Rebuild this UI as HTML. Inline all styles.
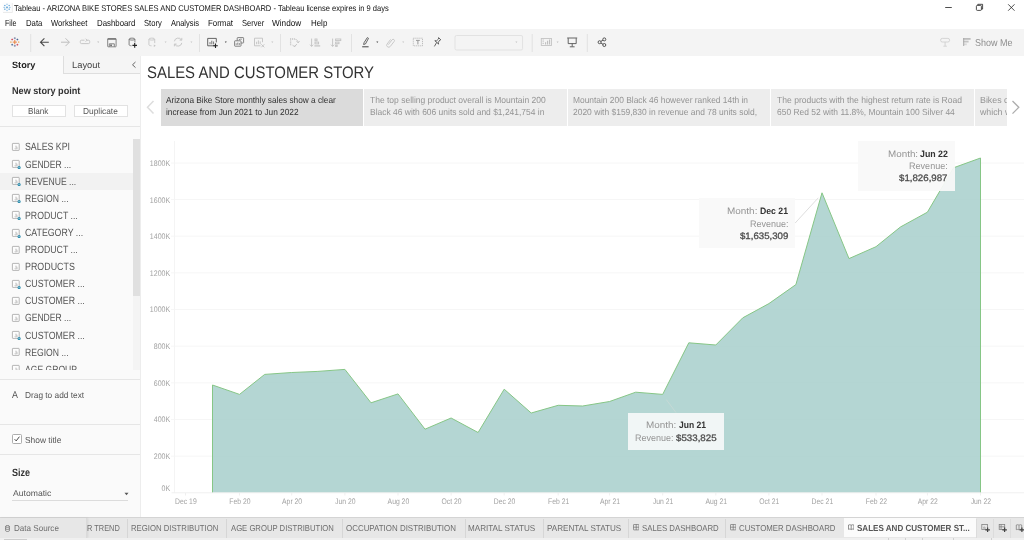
<!DOCTYPE html>
<html lang="en">
<head>
<meta charset="utf-8">
<title>Tableau - ARIZONA BIKE STORES SALES AND CUSTOMER DASHBOARD</title>
<style>
*{box-sizing:border-box;margin:0;padding:0}
html,body{width:1024px;height:540px;overflow:hidden;background:#fff}
body{font-family:"Liberation Sans",sans-serif;color:#333;position:relative;text-rendering:geometricPrecision}
.abs{position:absolute}
#titlebar{position:absolute;left:0;top:0;width:1024px;height:16px;background:#fff}
#titlebar .t{position:absolute;left:14px;top:2.5px;font-size:8.8px;color:#111;white-space:nowrap;line-height:10px}
#menubar{position:absolute;left:0;top:16px;width:1024px;height:13px;background:#fff}
#menubar span{position:absolute;top:.8px;font-size:8.9px;line-height:10px;color:#111;white-space:nowrap}
#toolbar{position:absolute;left:0;top:29px;width:1024px;height:27px;background:#f4f4f4}
#toolbar .sep{position:absolute;top:4px;height:18px;width:1px;background:#e0e0e0}
#toolbar svg{position:absolute}
#sidebar{position:absolute;left:0;top:56px;width:141px;height:461px;background:#fafafa;border-right:1.200px solid #ededed}
.hr{position:absolute;left:0;width:139.800px;height:1.200px;background:#e6e6e6}
.li{position:absolute;left:0;width:133px;height:17px;font-size:9.9px;color:#555;white-space:nowrap;line-height:17px}
.li.sel{background:#f2f2f2}
.li .ico{position:absolute;left:10.5px;top:3.6px}
.li>span{position:absolute;left:24.4px;top:0}
.btn{position:absolute;height:11.6px;background:#fff;border:1px solid #e2e2e2;color:#555}
.sp{position:absolute;top:89px;height:37px;color:#949494;overflow:hidden;background:#ededed}
.sp.cur{background:#dbdbdb;color:#333}
.chart{position:absolute;left:0;top:0}
.tip{position:absolute;background:rgba(249,249,249,.93);color:#959595}
.tip b{color:#333;font-weight:bold}
.tip .v{color:#555;font-weight:bold}
#tabbar{position:absolute;left:0;top:517px;width:1024px;height:23px;background:#e7e7e7;border-top:1px solid #d4d4d4}
.tab{color:#6e6e6e}
.ssep{position:absolute;top:20px;width:1px;height:3px;background:#d0d0d0}
.tsep{position:absolute;top:1px;width:1px;height:19px;background:#d6d6d6}
</style>
</head>
<body>
<div id="titlebar">
<svg class="abs" style="left:1.500px;top:2px" width="11" height="11" viewBox="0 0 11 11"><rect x="1" y="1" width="9.600" height="9.800" fill="#e4e4e4"/><rect x=".5" y=".5" width="9.400" height="9.600" fill="#fbfcfd"/><g stroke="#4f9bd5" stroke-width=".9" opacity=".85"><path d="M5 4.300v2.200M3.900 5.400h2.200"/><path d="M5 1.700v1.300M5 7.800v1.300M1.500 5.400h1.300M7.200 5.400h1.300M2.800 2.900v1.300M2.200 3.500h1.300M7.200 2.900v1.300M6.600 3.500h1.300M2.800 6.600v1.300M2.200 7.200h1.300M7.200 6.600v1.300M6.600 7.200h1.300" stroke-width=".8"/></g></svg>
<div style="position:absolute;left:14.30px;top:3.00px;font-size:8.3px;line-height:10px;white-space:nowrap;color:#111"><span style="display:inline-block;transform:scaleX(0.9099);transform-origin:0 50%">Tableau - ARIZONA BIKE STORES SALES AND CUSTOMER DASHBOARD - Tableau license expires in 9 days</span></div>
<svg class="abs" style="left:940px;top:0" width="84" height="16" viewBox="0 0 84 16"><g stroke="#222" stroke-width=".8" fill="none"><path d="M5.200 7.500h6.600"/><rect x="36.400" y="5.400" width="5" height="5" rx=".9"/><path d="M37.800 5.400v-1.100h4.800v4.800h-1.200"/><path d="M68.200 4.300l6.300 6.400M74.500 4.300l-6.300 6.400"/></g></svg>
</div>
<div id="menubar">
<span style="position:absolute;left:4.70px;top:1.00px;font-size:8.4px;line-height:10px;white-space:nowrap;color:#111"><span style="display:inline-block;transform:scaleX(0.7965);transform-origin:0 50%">File</span></span><span style="position:absolute;left:25.80px;top:1.00px;font-size:8.4px;line-height:10px;white-space:nowrap;color:#111"><span style="display:inline-block;transform:scaleX(0.8747);transform-origin:0 50%">Data</span></span><span style="position:absolute;left:51.30px;top:1.00px;font-size:8.4px;line-height:10px;white-space:nowrap;color:#111"><span style="display:inline-block;transform:scaleX(0.8636);transform-origin:0 50%">Worksheet</span></span><span style="position:absolute;left:96.90px;top:1.00px;font-size:8.4px;line-height:10px;white-space:nowrap;color:#111"><span style="display:inline-block;transform:scaleX(0.8820);transform-origin:0 50%">Dashboard</span></span><span style="position:absolute;left:144.30px;top:1.00px;font-size:8.4px;line-height:10px;white-space:nowrap;color:#111"><span style="display:inline-block;transform:scaleX(0.8543);transform-origin:0 50%">Story</span></span><span style="position:absolute;left:171.30px;top:1.00px;font-size:8.4px;line-height:10px;white-space:nowrap;color:#111"><span style="display:inline-block;transform:scaleX(0.8469);transform-origin:0 50%">Analysis</span></span><span style="position:absolute;left:208.00px;top:1.00px;font-size:8.4px;line-height:10px;white-space:nowrap;color:#111"><span style="display:inline-block;transform:scaleX(0.8894);transform-origin:0 50%">Format</span></span><span style="position:absolute;left:241.80px;top:1.00px;font-size:8.4px;line-height:10px;white-space:nowrap;color:#111"><span style="display:inline-block;transform:scaleX(0.8493);transform-origin:0 50%">Server</span></span><span style="position:absolute;left:272.30px;top:1.00px;font-size:8.4px;line-height:10px;white-space:nowrap;color:#111"><span style="display:inline-block;transform:scaleX(0.9247);transform-origin:0 50%">Window</span></span><span style="position:absolute;left:310.50px;top:1.00px;font-size:8.4px;line-height:10px;white-space:nowrap;color:#111"><span style="display:inline-block;transform:scaleX(0.8924);transform-origin:0 50%">Help</span></span>
</div>
<div id="toolbar">
<!--TB0--><svg class="abs" style="left:0;top:0" width="1024" height="27" viewBox="0 0 1024 27">
<!-- tableau logo -->
<g stroke-linecap="butt" opacity=".9">
<path d="M14.800 11v4.200M12.700 13.100h4.200" stroke="#e8762d" stroke-width="1"/>
<path d="M14.800 8.200v2M13.800 9.200h2M14.800 15.800v2M13.800 16.800h2" stroke="#5c6692" stroke-width=".7"/>
<path d="M12.200 9.600v1.800M11.300 10.500h1.800M17.400 14.800v1.800M16.500 15.700h1.800" stroke="#c72037" stroke-width=".7"/>
<path d="M17.400 9.600v1.800M16.500 10.500h1.800M12.200 14.800v1.800M11.300 15.700h1.800" stroke="#1f457e" stroke-width=".7"/>
<path d="M10.900 12.400v1.400M10.200 13.100h1.400M18.700 12.400v1.400M18 13.100h1.400" stroke="#eb9129" stroke-width=".6"/>
</g>
<g fill="#e2e2e2">
<rect x="30.200" y="5" width="1" height="18"/><rect x="199" y="5" width="1" height="18"/><rect x="280" y="5" width="1" height="18"/><rect x="351" y="5" width="1" height="18"/><rect x="531.700" y="5" width="1" height="18"/><rect x="586.800" y="5" width="1" height="18"/>
</g>
<!-- back -->
<g fill="none" stroke="#4a4a4a" stroke-width="1.100"><path d="M48.800 13.200H40.600M44.400 9.300l-3.900 3.900l3.900 3.900"/></g>
<!-- forward -->
<g fill="none" stroke="#bdbdbd" stroke-width="1"><path d="M61 13.200h8.200M65.500 9.300l3.900 3.900l-3.900 3.900"/></g>
<!-- replay -->
<g fill="none" stroke="#c2c2c2" stroke-width=".9"><path d="M84.500 11.200h-3a1.200 1.200 0 0 0-1.200 1.200v1a1.200 1.200 0 0 0 1.200 1.200h7a1.200 1.200 0 0 0 1.200-1.200v-1a1.200 1.200 0 0 0-1.200-1.200h-2.200M85.600 9.700l1.500 1.500l-1.500 1.500"/></g>
<path d="M97.2 12.600h2l-1 1.300z" fill="#bdbdbd"/>
<!-- save -->
<g fill="none" stroke="#6a6a6a" stroke-width=".8"><rect x="107.700" y="9.600" width="8.400" height="8.200" rx=".5"/><path d="M107.700 10.100h8.400" stroke-width="1.200"/><path d="M109.300 17.600v-2.800h5v2.800"/><rect x="110.300" y="15.500" width="1.500" height="1.600" fill="#555" stroke="none"/></g>
<!-- new datasource -->
<g fill="none" stroke="#666" stroke-width=".8"><ellipse cx="132" cy="10.100" rx="2.900" ry="1"/><path d="M129.100 10.100v5.600c0 .6 1 1 2.400 1.100M134.900 10.100v3.400"/><path d="M134.700 14.100v4.600M132.400 16.400h4.600" stroke="#222" stroke-width="1.100"/></g>
<!-- light cylinder -->
<g fill="none" stroke="#c4c4c4" stroke-width=".85"><ellipse cx="151.800" cy="10.100" rx="2.900" ry="1"/><path d="M148.900 10.100v5.600c0 .6 1 1 2.600 1.100M154.700 10.100v4"/><path d="M153.800 15.400l2 1.300l-2 1.300z" fill="#c4c4c4" stroke="none"/></g>
<path d="M164.6 12.600h2l-1 1.300z" fill="#c6c6c6"/>
<!-- refresh -->
<g fill="none" stroke="#c2c2c2" stroke-width=".9"><path d="M174.400 12.300a3.800 3.800 0 0 1 7-1.400M181.800 13.900a3.800 3.800 0 0 1-7 1.400"/><path d="M181.800 8.900v2.200h-2.200M174.400 17.300v-2.200h2.200"/></g>
<path d="M190.4 12.600h2l-1 1.300z" fill="#c6c6c6"/>
<!-- new worksheet -->
<g fill="none" stroke="#555" stroke-width=".9"><path d="M215.500 15.500v1.300h-7.800v-7.400h8.600v4"/><path d="M210 15.300v-2.200M211.800 15.300v-3.600M213.600 15.300v-2.800" stroke="#666"/><path d="M215.500 14.500v4.600M213.200 16.800h4.600" stroke="#222" stroke-width="1.100"/></g>
<path d="M224.8 12.600h2l-1 1.300z" fill="#444"/>
<!-- duplicate -->
<g fill="none" stroke="#777" stroke-width=".9"><rect x="237.200" y="8.600" width="6.400" height="5.400" rx=".5"/><rect x="234.600" y="11.800" width="6.400" height="5.400" rx=".5" fill="#f4f4f4"/><path d="M236.200 15.800v-1.400M237.800 15.800v-2.200M239.400 15.800v-1.600M239.400 11v-1M241 11v-1.400"/></g>
<!-- clear sheet -->
<g fill="none" stroke="#c2c2c2" stroke-width=".9"><path d="M260.500 16.800h-6v-7.600h8v4"/><path d="M256.600 15.200v-2.400M258.400 15.200v-3.800M260.200 15.200v-2.800"/><path d="M261.300 15.300l3 3M264.300 15.300l-3 3"/></g>
<path d="M271.3 12.600h2l-1 1.300z" fill="#c4c4c4"/>
<!-- swap -->
<g fill="none" stroke="#c2c2c2" stroke-width=".9"><path d="M290 10h5.600" stroke-dasharray="1.100 .8" stroke-width="1.300"/><path d="M290.600 11.400v5" stroke-dasharray="1.100 .8" stroke-width="1.300"/><path d="M295.400 10.300c1.600 .3 2.600 1.600 2.700 3.200M297 15.200l-2.800 2.300"/><path d="M296.600 12.300l1.600 1.600l1.300-1.800M292.600 15.800l1.400 1.800l2-1"/></g>
<!-- sort asc -->
<g fill="none" stroke="#c2c2c2" stroke-width=".9"><path d="M311.600 9.600v7.800M310 15.700l1.600 1.700l1.600-1.700"/><rect x="315" y="10" width="2" height="1.800"/><rect x="315" y="13.100" width="3.600" height="1.800"/><path d="M314.400 16.900h5.800" stroke-width="1.200"/></g>
<!-- sort desc -->
<g fill="none" stroke="#c2c2c2" stroke-width=".9"><path d="M332.600 9.600v7.800M331 15.700l1.600 1.700l1.600-1.700"/><rect x="335.600" y="10" width="5.200" height="1.600"/><rect x="335.600" y="13.100" width="3.400" height="1.600"/><rect x="335.600" y="16" width="1.600" height="1.400"/></g>
<!-- highlighter -->
<g fill="none" stroke="#555" stroke-width=".9"><path d="M367.300 8.600l1.200.7l-3 5.600l-1.900.6l.5-1.900z"/><path d="M362.200 17.800h6.400" stroke="#444" stroke-width="1"/></g>
<path d="M376.3 12.600h2l-1 1.300z" fill="#444"/>
<!-- paperclip -->
<g fill="none" stroke="#c4c4c4" stroke-width=".9"><path d="M388.400 15.600l3.700-4.800a1.300 1.300 0 0 1 2.100 1.600l-3.900 5a2 2 0 0 1-3.200-2.400l3.500-4.600"/></g>
<path d="M402.2 12.600h2l-1 1.300z" fill="#c4c4c4"/>
<!-- T box -->
<g fill="none" stroke="#b0b0b0" stroke-width=".8"><rect x="413.300" y="9.200" width="9.200" height="7.600" stroke-dasharray="1.200 .8"/><path d="M416 11.400h3.800M417.900 11.400v4" stroke="#9a9a9a" stroke-width="1"/></g>
<!-- pin -->
<g fill="none" stroke="#444" stroke-width=".8"><path d="M438.600 8.600l2.200 2.200l-1 .3l-1.500 2.200l.3 1.800l-3.800-3.400l1.800.1l1.900-1.800z"/><path d="M436.600 13.600l-2.200 3.800"/></g>
<!-- dropdown -->
<rect x="455" y="6.500" width="67.600" height="14.500" rx="1.500" fill="#f4f4f4" stroke="#e2e2e2" stroke-width="1"/>
<path d="M515.4 12.600h2l-1 1.300z" fill="#c4c4c4"/>
<!-- fit chart -->
<g fill="none" stroke="#c4c4c4" stroke-width=".9"><rect x="541.300" y="9.500" width="10.200" height="7"/><path d="M543.200 10.400v5.400" stroke-dasharray="1 .8" stroke-width="1.200"/><path d="M545.600 15.600v-2.400M547.600 15.600v-3.800M549.600 15.600v-5" stroke-width="1.100" stroke="#bdbdbd"/></g>
<path d="M556.6 12.600h2l-1 1.300z" fill="#bdbdbd"/>
<!-- presentation -->
<g fill="none" stroke="#555" stroke-width=".9"><path d="M567.200 9h10M568.200 9.200v5.400h8v-5.400M572.200 14.600v3M569.800 17.800h4.800"/></g>
<!-- share -->
<g fill="none" stroke="#444" stroke-width=".9"><circle cx="599.600" cy="13.200" r="1.500"/><circle cx="604.300" cy="10.400" r="1.500"/><circle cx="604.300" cy="16" r="1.500"/><path d="M600.900 12.400l2.100-1.300M600.900 14l2.100 1.300"/></g>
<!-- guide -->
<g fill="none" stroke="#d0d0d0" stroke-width=".9"><rect x="940.600" y="9.400" width="9" height="3.600" rx="1.700"/><path d="M945.100 13v4M943.400 17.200h3.400"/></g>
<!-- show me -->
<g fill="#bdbdbd"><rect x="963.200" y="9" width="7.400" height="1.800"/><rect x="963.200" y="11.700" width="5.400" height="1.800" fill="#c4c4c4"/><rect x="963.200" y="14.400" width="3.600" height="1.800" fill="#d9d9d9"/><rect x="963.200" y="9" width="1" height="8" fill="#aaa"/></g>

</svg>
<!--TB1-->
<div style="position:absolute;left:974.50px;top:9.00px;font-size:10px;line-height:12px;white-space:nowrap;color:#8c8c8c"><span style="display:inline-block;transform:scaleX(0.8996);transform-origin:0 50%">Show Me</span></div>
</div>
<div id="sidebar">
<div class="abs" style="left:62.500px;top:0;width:77.500px;height:17.500px;background:#f5f5f5;border-left:1px solid #dedede;border-bottom:1px solid #dedede"></div>
<div style="position:absolute;left:12.20px;top:4.00px;font-size:9.1px;line-height:11px;white-space:nowrap;font-weight:bold;color:#222"><span style="display:inline-block;transform:scaleX(1.0065);transform-origin:0 50%">Story</span></div>
<div style="position:absolute;left:71.60px;top:4.00px;font-size:9.1px;line-height:11px;white-space:nowrap;color:#444"><span style="display:inline-block;transform:scaleX(1.0288);transform-origin:0 50%">Layout</span></div>
<svg class="abs" style="left:131px;top:5px" width="6" height="8" viewBox="0 0 6 8"><path d="M4.500 1L1.500 3.800L4.500 6.600" fill="none" stroke="#666" stroke-width="1"/></svg>
<div style="position:absolute;left:12.00px;top:30.00px;font-size:9.9px;line-height:12px;white-space:nowrap;font-weight:bold;color:#333"><span style="display:inline-block;transform:scaleX(0.9233);transform-origin:0 50%">New story point</span></div>
<div class="btn" style="left:12px;top:49.300px;width:54px"><span style="position:absolute;left:15.40px;top:-0.30px;font-size:8.6px;line-height:11px;white-space:nowrap;"><span style="display:inline-block;transform:scaleX(0.9488);transform-origin:0 50%">Blank</span></span></div>
<div class="btn" style="left:74px;top:49.300px;width:54px"><span style="position:absolute;left:8.10px;top:-0.30px;font-size:8.6px;line-height:11px;white-space:nowrap;"><span style="display:inline-block;transform:scaleX(0.9713);transform-origin:0 50%">Duplicate</span></span></div>
<div class="hr" style="top:69.500px"></div>
</div>
<div id="list" class="abs" style="left:0;top:0;width:140px;height:370px;overflow:hidden">
<div class="li" style="top:138.5px"><svg class="ico" width="10" height="10" viewBox="0 0 10 10"><rect x="1.4" y="1.4" width="6.800" height="7" rx=".5" fill="#fdfdfd" stroke="#999" stroke-width="0.7"/><path d="M4 4.600c.8-.8 2-.5 2 .5v2M6 5.800c-1.200-.2-2.100 .2-2 .8c.1 .7 1.500 .7 2-.2" fill="none" stroke="#b5b5b5" stroke-width=".7"/></svg><span style="position:absolute;left:24.60px;top:2.50px;font-size:10.5px;line-height:13px;white-space:nowrap;color:#555"><span style="display:inline-block;transform:scaleX(0.8379);transform-origin:0 50%">SALES KPI</span></span></div>
<div class="li" style="top:155.6px"><svg class="ico" width="10" height="10" viewBox="0 0 10 10"><rect x="1.4" y="1.4" width="6.800" height="7" rx=".5" fill="#fdfdfd" stroke="#999" stroke-width="0.7"/><path d="M4 4.600c.8-.8 2-.5 2 .5v2M6 5.800c-1.200-.2-2.100 .2-2 .8c.1 .7 1.500 .7 2-.2" fill="none" stroke="#b5b5b5" stroke-width=".7"/><circle cx="8.100" cy="8.600" r="1.600" fill="#2b8cad"/><path d="M7.300 8.600h1.600" stroke="#e8f3f7" stroke-width=".5"/></svg><span style="position:absolute;left:24.60px;top:3.40px;font-size:10.5px;line-height:13px;white-space:nowrap;color:#555"><span style="display:inline-block;transform:scaleX(0.8163);transform-origin:0 50%">GENDER ...</span></span></div>
<div class="li sel" style="top:172.7px"><svg class="ico" width="10" height="10" viewBox="0 0 10 10"><rect x="1.4" y="1.4" width="6.800" height="7" rx=".5" fill="#fdfdfd" stroke="#999" stroke-width="0.7"/><path d="M4 4.600c.8-.8 2-.5 2 .5v2M6 5.800c-1.200-.2-2.100 .2-2 .8c.1 .7 1.500 .7 2-.2" fill="none" stroke="#b5b5b5" stroke-width=".7"/><circle cx="8.100" cy="8.600" r="1.600" fill="#2b8cad"/><path d="M7.300 8.600h1.600" stroke="#e8f3f7" stroke-width=".5"/></svg><span style="position:absolute;left:24.60px;top:3.30px;font-size:10.5px;line-height:13px;white-space:nowrap;color:#555"><span style="display:inline-block;transform:scaleX(0.8200);transform-origin:0 50%">REVENUE ...</span></span></div>
<div class="li" style="top:189.8px"><svg class="ico" width="10" height="10" viewBox="0 0 10 10"><rect x="1.4" y="1.4" width="6.800" height="7" rx=".5" fill="#fdfdfd" stroke="#999" stroke-width="0.7"/><path d="M4 4.600c.8-.8 2-.5 2 .5v2M6 5.800c-1.200-.2-2.100 .2-2 .8c.1 .7 1.500 .7 2-.2" fill="none" stroke="#b5b5b5" stroke-width=".7"/><circle cx="8.100" cy="8.600" r="1.600" fill="#2b8cad"/><path d="M7.300 8.600h1.600" stroke="#e8f3f7" stroke-width=".5"/></svg><span style="position:absolute;left:24.60px;top:3.20px;font-size:10.5px;line-height:13px;white-space:nowrap;color:#555"><span style="display:inline-block;transform:scaleX(0.8212);transform-origin:0 50%">REGION ...</span></span></div>
<div class="li" style="top:206.9px"><svg class="ico" width="10" height="10" viewBox="0 0 10 10"><rect x="1.4" y="1.4" width="6.800" height="7" rx=".5" fill="#fdfdfd" stroke="#999" stroke-width="0.7"/><path d="M4 4.600c.8-.8 2-.5 2 .5v2M6 5.800c-1.200-.2-2.100 .2-2 .8c.1 .7 1.500 .7 2-.2" fill="none" stroke="#b5b5b5" stroke-width=".7"/><circle cx="8.100" cy="8.600" r="1.600" fill="#2b8cad"/><path d="M7.300 8.600h1.600" stroke="#e8f3f7" stroke-width=".5"/></svg><span style="position:absolute;left:24.60px;top:3.10px;font-size:10.5px;line-height:13px;white-space:nowrap;color:#555"><span style="display:inline-block;transform:scaleX(0.8327);transform-origin:0 50%">PRODUCT ...</span></span></div>
<div class="li" style="top:224.0px"><svg class="ico" width="10" height="10" viewBox="0 0 10 10"><rect x="1.4" y="1.4" width="6.800" height="7" rx=".5" fill="#fdfdfd" stroke="#999" stroke-width="0.7"/><path d="M4 4.600c.8-.8 2-.5 2 .5v2M6 5.800c-1.200-.2-2.100 .2-2 .8c.1 .7 1.500 .7 2-.2" fill="none" stroke="#b5b5b5" stroke-width=".7"/><circle cx="8.100" cy="8.600" r="1.600" fill="#2b8cad"/><path d="M7.300 8.600h1.600" stroke="#e8f3f7" stroke-width=".5"/></svg><span style="position:absolute;left:24.60px;top:3.00px;font-size:10.5px;line-height:13px;white-space:nowrap;color:#555"><span style="display:inline-block;transform:scaleX(0.8367);transform-origin:0 50%">CATEGORY ...</span></span></div>
<div class="li" style="top:241.1px"><svg class="ico" width="10" height="10" viewBox="0 0 10 10"><rect x="1.4" y="1.4" width="6.800" height="7" rx=".5" fill="#fdfdfd" stroke="#999" stroke-width="0.7"/><path d="M4 4.600c.8-.8 2-.5 2 .5v2M6 5.800c-1.200-.2-2.100 .2-2 .8c.1 .7 1.500 .7 2-.2" fill="none" stroke="#b5b5b5" stroke-width=".7"/></svg><span style="position:absolute;left:24.60px;top:2.90px;font-size:10.5px;line-height:13px;white-space:nowrap;color:#555"><span style="display:inline-block;transform:scaleX(0.8327);transform-origin:0 50%">PRODUCT ...</span></span></div>
<div class="li" style="top:258.2px"><svg class="ico" width="10" height="10" viewBox="0 0 10 10"><rect x="1.4" y="1.4" width="6.800" height="7" rx=".5" fill="#fdfdfd" stroke="#999" stroke-width="0.7"/><path d="M4 4.600c.8-.8 2-.5 2 .5v2M6 5.800c-1.200-.2-2.100 .2-2 .8c.1 .7 1.500 .7 2-.2" fill="none" stroke="#b5b5b5" stroke-width=".7"/></svg><span style="position:absolute;left:24.60px;top:2.80px;font-size:10.5px;line-height:13px;white-space:nowrap;color:#555"><span style="display:inline-block;transform:scaleX(0.8452);transform-origin:0 50%">PRODUCTS</span></span></div>
<div class="li" style="top:275.3px"><svg class="ico" width="10" height="10" viewBox="0 0 10 10"><rect x="1.4" y="1.4" width="6.800" height="7" rx=".5" fill="#fdfdfd" stroke="#999" stroke-width="0.7"/><path d="M4 4.600c.8-.8 2-.5 2 .5v2M6 5.800c-1.200-.2-2.100 .2-2 .8c.1 .7 1.500 .7 2-.2" fill="none" stroke="#b5b5b5" stroke-width=".7"/><circle cx="8.100" cy="8.600" r="1.600" fill="#2b8cad"/><path d="M7.300 8.600h1.600" stroke="#e8f3f7" stroke-width=".5"/></svg><span style="position:absolute;left:24.60px;top:2.70px;font-size:10.5px;line-height:13px;white-space:nowrap;color:#555"><span style="display:inline-block;transform:scaleX(0.8356);transform-origin:0 50%">CUSTOMER ...</span></span></div>
<div class="li" style="top:292.4px"><svg class="ico" width="10" height="10" viewBox="0 0 10 10"><rect x="1.4" y="1.4" width="6.800" height="7" rx=".5" fill="#fdfdfd" stroke="#999" stroke-width="0.7"/><path d="M4 4.600c.8-.8 2-.5 2 .5v2M6 5.800c-1.200-.2-2.100 .2-2 .8c.1 .7 1.500 .7 2-.2" fill="none" stroke="#b5b5b5" stroke-width=".7"/></svg><span style="position:absolute;left:24.60px;top:2.60px;font-size:10.5px;line-height:13px;white-space:nowrap;color:#555"><span style="display:inline-block;transform:scaleX(0.8356);transform-origin:0 50%">CUSTOMER ...</span></span></div>
<div class="li" style="top:309.5px"><svg class="ico" width="10" height="10" viewBox="0 0 10 10"><rect x="1.4" y="1.4" width="6.800" height="7" rx=".5" fill="#fdfdfd" stroke="#999" stroke-width="0.7"/><path d="M4 4.600c.8-.8 2-.5 2 .5v2M6 5.800c-1.200-.2-2.100 .2-2 .8c.1 .7 1.500 .7 2-.2" fill="none" stroke="#b5b5b5" stroke-width=".7"/></svg><span style="position:absolute;left:24.60px;top:2.50px;font-size:10.5px;line-height:13px;white-space:nowrap;color:#555"><span style="display:inline-block;transform:scaleX(0.8163);transform-origin:0 50%">GENDER ...</span></span></div>
<div class="li" style="top:326.6px"><svg class="ico" width="10" height="10" viewBox="0 0 10 10"><rect x="1.4" y="1.4" width="6.800" height="7" rx=".5" fill="#fdfdfd" stroke="#999" stroke-width="0.7"/><path d="M4 4.600c.8-.8 2-.5 2 .5v2M6 5.800c-1.200-.2-2.100 .2-2 .8c.1 .7 1.500 .7 2-.2" fill="none" stroke="#b5b5b5" stroke-width=".7"/><circle cx="8.100" cy="8.600" r="1.600" fill="#2b8cad"/><path d="M7.300 8.600h1.600" stroke="#e8f3f7" stroke-width=".5"/></svg><span style="position:absolute;left:24.60px;top:3.40px;font-size:10.5px;line-height:13px;white-space:nowrap;color:#555"><span style="display:inline-block;transform:scaleX(0.8356);transform-origin:0 50%">CUSTOMER ...</span></span></div>
<div class="li" style="top:343.7px"><svg class="ico" width="10" height="10" viewBox="0 0 10 10"><rect x="1.4" y="1.4" width="6.800" height="7" rx=".5" fill="#fdfdfd" stroke="#999" stroke-width="0.7"/><path d="M4 4.600c.8-.8 2-.5 2 .5v2M6 5.800c-1.200-.2-2.100 .2-2 .8c.1 .7 1.500 .7 2-.2" fill="none" stroke="#b5b5b5" stroke-width=".7"/></svg><span style="position:absolute;left:24.60px;top:3.30px;font-size:10.5px;line-height:13px;white-space:nowrap;color:#555"><span style="display:inline-block;transform:scaleX(0.8212);transform-origin:0 50%">REGION ...</span></span></div>
<div class="li" style="top:360.8px"><svg class="ico" width="10" height="10" viewBox="0 0 10 10"><rect x="1.4" y="1.4" width="6.800" height="7" rx=".5" fill="#fdfdfd" stroke="#999" stroke-width="0.7"/><path d="M4 4.600c.8-.8 2-.5 2 .5v2M6 5.800c-1.200-.2-2.100 .2-2 .8c.1 .7 1.500 .7 2-.2" fill="none" stroke="#b5b5b5" stroke-width=".7"/></svg><span style="position:absolute;left:24.60px;top:3.20px;font-size:10.5px;line-height:13px;white-space:nowrap;color:#555"><span style="display:inline-block;transform:scaleX(0.8175);transform-origin:0 50%">AGE GROUP</span></span></div>

<div class="abs" style="left:133.100px;top:139px;width:6.600px;height:231px;background:#f4f4f4"></div>
<div class="abs" style="left:133.100px;top:139px;width:6.600px;height:157px;background:#e0e0e0"></div>
</div>
<div class="hr" style="top:379px"></div>
<div style="position:absolute;left:12.30px;top:390.00px;font-size:10px;line-height:12px;white-space:nowrap;color:#555"><span style="display:inline-block;transform:scaleX(0.8843);transform-origin:0 50%">A</span></div>
<div style="position:absolute;left:24.60px;top:390.00px;font-size:8.6px;line-height:11px;white-space:nowrap;color:#555"><span style="display:inline-block;transform:scaleX(0.9664);transform-origin:0 50%">Drag to add text</span></div>
<div class="hr" style="top:424px"></div>
<svg class="abs" style="left:11.700px;top:434.200px" width="10" height="10" viewBox="0 0 10 10"><rect x=".5" y=".5" width="9" height="9" rx="1" fill="#fff" stroke="#999" stroke-width=".8"/><path d="M2.600 5.200l1.600 1.700L7.400 2.700" fill="none" stroke="#333" stroke-width=".9"/></svg>
<div style="position:absolute;left:24.60px;top:435.00px;font-size:8.7px;line-height:11px;white-space:nowrap;color:#555"><span style="display:inline-block;transform:scaleX(0.9662);transform-origin:0 50%">Show title</span></div>
<div class="hr" style="top:454px"></div>
<div style="position:absolute;left:12.00px;top:467.00px;font-size:10.5px;line-height:13px;white-space:nowrap;font-weight:bold;color:#333"><span style="display:inline-block;transform:scaleX(0.8613);transform-origin:0 50%">Size</span></div>
<div style="position:absolute;left:12.60px;top:488.00px;font-size:8.4px;line-height:10px;white-space:nowrap;color:#555"><span style="display:inline-block;transform:scaleX(1.0282);transform-origin:0 50%">Automatic</span></div>
<svg class="abs" style="left:124px;top:491.500px" width="5" height="4" viewBox="0 0 5 4"><path d="M.5.800h4L2.500 3.200z" fill="#555"/></svg>
<div class="abs" style="left:12px;top:499.500px;width:116px;height:1px;background:#dcdcdc"></div>

<div id="main">
<div style="position:absolute;left:146.90px;top:62.00px;font-size:16.7px;line-height:21px;white-space:nowrap;color:#333"><span style="display:inline-block;transform:scaleX(0.8934);transform-origin:0 50%">SALES AND CUSTOMER STORY</span></div>
<svg class="abs" style="left:146px;top:100px" width="9" height="15" viewBox="0 0 9 15"><path d="M7.500 1L1.500 7.300L7.500 13.600" fill="none" stroke="#dddddd" stroke-width="1.500"/></svg>
<svg class="abs" style="left:1011px;top:100px" width="9" height="15" viewBox="0 0 9 15"><path d="M1.500 1L7.800 7.300L1.500 13.600" fill="none" stroke="#adadad" stroke-width="1.300"/></svg>
<div class="sp cur" style="left:160.8px;width:202px"><span style="position:absolute;left:5.40px;top:6.00px;font-size:8.9px;line-height:11px;white-space:nowrap;color:#333"><span style="display:inline-block;transform:scaleX(0.9303);transform-origin:0 50%">Arizona Bike Store monthly sales show a clear</span></span><span style="position:absolute;left:5.40px;top:18.00px;font-size:8.9px;line-height:11px;white-space:nowrap;color:#333"><span style="display:inline-block;transform:scaleX(0.9364);transform-origin:0 50%">increase from Jun 2021 to Jun 2022</span></span></div>
<div class="sp" style="left:364.2px;width:202.4px"><span style="position:absolute;left:5.60px;top:6.00px;font-size:8.9px;line-height:11px;white-space:nowrap;"><span style="display:inline-block;transform:scaleX(0.9573);transform-origin:0 50%">The top selling product overall is Mountain 200</span></span><span style="position:absolute;left:5.60px;top:18.00px;font-size:8.9px;line-height:11px;white-space:nowrap;"><span style="display:inline-block;transform:scaleX(0.9527);transform-origin:0 50%">Black 46 with 606 units sold and $1,241,754 in</span></span></div>
<div class="sp" style="left:567.8px;width:202.4px"><span style="position:absolute;left:5.50px;top:6.00px;font-size:8.9px;line-height:11px;white-space:nowrap;"><span style="display:inline-block;transform:scaleX(0.9459);transform-origin:0 50%">Mountain 200 Black 46 however ranked 14th in</span></span><span style="position:absolute;left:5.50px;top:18.00px;font-size:8.9px;line-height:11px;white-space:nowrap;"><span style="display:inline-block;transform:scaleX(0.9513);transform-origin:0 50%">2020 with $159,830 in revenue and 78 units sold,</span></span></div>
<div class="sp" style="left:771.4px;width:202.4px"><span style="position:absolute;left:5.40px;top:6.00px;font-size:8.9px;line-height:11px;white-space:nowrap;"><span style="display:inline-block;transform:scaleX(0.9645);transform-origin:0 50%">The products with the highest return rate is Road</span></span><span style="position:absolute;left:5.40px;top:18.00px;font-size:8.9px;line-height:11px;white-space:nowrap;"><span style="display:inline-block;transform:scaleX(0.9517);transform-origin:0 50%">650 Red 52 with 11.8%, Mountain 100 Silver 44</span></span></div>
<div class="sp" style="left:975.2px;width:32px"><span style="position:absolute;left:5.20px;top:6.00px;font-size:8.9px;line-height:11px;white-space:nowrap;"><span style="display:inline-block;transform:scaleX(0.9973);transform-origin:0 50%">Bikes category has the highest revenue</span></span><span style="position:absolute;left:5.20px;top:18.00px;font-size:8.9px;line-height:11px;white-space:nowrap;"><span style="display:inline-block;transform:scaleX(0.9889);transform-origin:0 50%">which was driven by Mountain bikes</span></span></div>

<svg class="chart" width="1024" height="540" viewBox="0 0 1024 540">
<g>
<line x1="171" x2="1024" y1="456.2" y2="456.2" stroke="#f6f6f6" stroke-width="1"/>
<line x1="171" x2="1024" y1="419.5" y2="419.5" stroke="#f6f6f6" stroke-width="1"/>
<line x1="171" x2="1024" y1="382.9" y2="382.9" stroke="#f6f6f6" stroke-width="1"/>
<line x1="171" x2="1024" y1="346.2" y2="346.2" stroke="#f6f6f6" stroke-width="1"/>
<line x1="171" x2="1024" y1="309.6" y2="309.6" stroke="#f6f6f6" stroke-width="1"/>
<line x1="171" x2="1024" y1="272.9" y2="272.9" stroke="#f6f6f6" stroke-width="1"/>
<line x1="171" x2="1024" y1="236.2" y2="236.2" stroke="#f6f6f6" stroke-width="1"/>
<line x1="171" x2="1024" y1="199.6" y2="199.6" stroke="#f6f6f6" stroke-width="1"/>
<line x1="171" x2="1024" y1="163.0" y2="163.0" stroke="#f6f6f6" stroke-width="1"/>

<line x1="174.5" x2="174.5" y1="141" y2="493" stroke="#f4f4f4" stroke-width="1"/>
<line x1="171.500" x2="1024" y1="492.800" y2="492.800" stroke="#f0f0f0" stroke-width="1"/>
<polygon points="212.5,492.3 212.5,385.0 239.5,394.4 264.7,374.4 291.7,372.5 317.9,371.4 344.9,369.4 371.0,402.8 398.0,393.9 425.0,429.2 451.1,418.0 478.1,432.5 504.2,389.2 531.2,413.0 558.2,405.3 582.6,406.0 609.6,401.5 635.7,392.2 662.7,394.4 688.8,342.8 715.8,345.0 742.8,317.8 768.9,303.6 795.9,284.6 822.0,192.8 849.0,258.6 876.0,246.7 900.4,227.0 927.4,212.2 953.5,167.8 980.5,158.0 980.5,492.3" fill="#a7cfcb" fill-opacity=".85"/>
<polyline points="212.5,492.3 212.5,385.0 239.5,394.4 264.7,374.4 291.7,372.5 317.9,371.4 344.9,369.4 371.0,402.8 398.0,393.9 425.0,429.2 451.1,418.0 478.1,432.5 504.2,389.2 531.2,413.0 558.2,405.3 582.6,406.0 609.6,401.5 635.7,392.2 662.7,394.4 688.8,342.8 715.8,345.0 742.8,317.8 768.9,303.6 795.9,284.6 822.0,192.8 849.0,258.6 876.0,246.7 900.4,227.0 927.4,212.2 953.5,167.8 980.5,158.0 980.5,492.3" fill="none" stroke="#86c686" stroke-width="1" stroke-linejoin="round"/>
</g>
<g font-family="'Liberation Sans', sans-serif" font-size="8.1" fill="#a2a2a2">
<text transform="translate(170.2,491.1) scale(0.872,1)" text-anchor="end">0K</text>
<text transform="translate(170.2,459.0) scale(0.872,1)" text-anchor="end">200K</text>
<text transform="translate(170.2,422.4) scale(0.872,1)" text-anchor="end">400K</text>
<text transform="translate(170.2,385.7) scale(0.872,1)" text-anchor="end">600K</text>
<text transform="translate(170.2,349.1) scale(0.872,1)" text-anchor="end">800K</text>
<text transform="translate(170.2,312.4) scale(0.872,1)" text-anchor="end">1000K</text>
<text transform="translate(170.2,275.8) scale(0.872,1)" text-anchor="end">1200K</text>
<text transform="translate(170.2,239.1) scale(0.872,1)" text-anchor="end">1400K</text>
<text transform="translate(170.2,202.5) scale(0.872,1)" text-anchor="end">1600K</text>
<text transform="translate(170.2,165.8) scale(0.872,1)" text-anchor="end">1800K</text>

<text transform="translate(185.9,504.1) scale(0.84148,1)" text-anchor="middle">Dec 19</text>
<line x1="185.5" x2="185.5" y1="493" y2="495.5" stroke="#efefef" stroke-width="1"/>
<text transform="translate(239.9,504.1) scale(0.84148,1)" text-anchor="middle">Feb 20</text>
<line x1="239.5" x2="239.5" y1="493" y2="495.5" stroke="#efefef" stroke-width="1"/>
<text transform="translate(292.1,504.1) scale(0.84148,1)" text-anchor="middle">Apr 20</text>
<line x1="291.7" x2="291.7" y1="493" y2="495.5" stroke="#efefef" stroke-width="1"/>
<text transform="translate(345.3,504.1) scale(0.84148,1)" text-anchor="middle">Jun 20</text>
<line x1="344.9" x2="344.9" y1="493" y2="495.5" stroke="#efefef" stroke-width="1"/>
<text transform="translate(398.4,504.1) scale(0.84148,1)" text-anchor="middle">Aug 20</text>
<line x1="398.0" x2="398.0" y1="493" y2="495.5" stroke="#efefef" stroke-width="1"/>
<text transform="translate(451.5,504.1) scale(0.84148,1)" text-anchor="middle">Oct 20</text>
<line x1="451.1" x2="451.1" y1="493" y2="495.5" stroke="#efefef" stroke-width="1"/>
<text transform="translate(504.6,504.1) scale(0.84148,1)" text-anchor="middle">Dec 20</text>
<line x1="504.2" x2="504.2" y1="493" y2="495.5" stroke="#efefef" stroke-width="1"/>
<text transform="translate(558.6,504.1) scale(0.84148,1)" text-anchor="middle">Feb 21</text>
<line x1="558.2" x2="558.2" y1="493" y2="495.5" stroke="#efefef" stroke-width="1"/>
<text transform="translate(610.0,504.1) scale(0.84148,1)" text-anchor="middle">Apr 21</text>
<line x1="609.6" x2="609.6" y1="493" y2="495.5" stroke="#efefef" stroke-width="1"/>
<text transform="translate(663.1,504.1) scale(0.84148,1)" text-anchor="middle">Jun 21</text>
<line x1="662.7" x2="662.7" y1="493" y2="495.5" stroke="#efefef" stroke-width="1"/>
<text transform="translate(716.2,504.1) scale(0.84148,1)" text-anchor="middle">Aug 21</text>
<line x1="715.8" x2="715.8" y1="493" y2="495.5" stroke="#efefef" stroke-width="1"/>
<text transform="translate(769.3,504.1) scale(0.84148,1)" text-anchor="middle">Oct 21</text>
<line x1="768.9" x2="768.9" y1="493" y2="495.5" stroke="#efefef" stroke-width="1"/>
<text transform="translate(822.4,504.1) scale(0.84148,1)" text-anchor="middle">Dec 21</text>
<line x1="822.0" x2="822.0" y1="493" y2="495.5" stroke="#efefef" stroke-width="1"/>
<text transform="translate(876.4,504.1) scale(0.84148,1)" text-anchor="middle">Feb 22</text>
<line x1="876.0" x2="876.0" y1="493" y2="495.5" stroke="#efefef" stroke-width="1"/>
<text transform="translate(927.8,504.1) scale(0.84148,1)" text-anchor="middle">Apr 22</text>
<line x1="927.4" x2="927.4" y1="493" y2="495.5" stroke="#efefef" stroke-width="1"/>
<text transform="translate(980.9,504.1) scale(0.84148,1)" text-anchor="middle">Jun 22</text>
<line x1="980.5" x2="980.5" y1="493" y2="495.5" stroke="#efefef" stroke-width="1"/>

</g>
<line x1="795" y1="223.2" x2="818.3" y2="197.8" stroke="#d6d6d6" stroke-width="0.8"/>
<line x1="666.3" y1="399.6" x2="676" y2="412.6" stroke="#c9d9d6" stroke-width="0.8"/>
</svg>
<div class="tip" style="left:858.2px;top:141.2px;width:96.4px;height:50.2px;"><span style="position:absolute;left:29.70px;top:6.80px;font-size:9.3px;line-height:12px;white-space:nowrap;"><span style="display:inline-block;transform:scaleX(1.0590);transform-origin:0 50%">Month:</span></span><span style="position:absolute;left:61.90px;top:6.80px;font-size:9.3px;line-height:12px;white-space:nowrap;font-weight:bold;color:#333"><span style="display:inline-block;transform:scaleX(0.9473);transform-origin:0 50%">Jun 22</span></span><span style="position:absolute;left:51.00px;top:18.80px;font-size:9.3px;line-height:12px;white-space:nowrap;"><span style="display:inline-block;transform:scaleX(0.9746);transform-origin:0 50%">Revenue:</span></span><span style="position:absolute;left:41.30px;top:30.80px;font-size:9.3px;line-height:12px;white-space:nowrap;color:#444;-webkit-text-stroke:.3px #555"><span style="display:inline-block;transform:scaleX(1.0423);transform-origin:0 50%">$1,826,987</span></span></div>
<div class="tip" style="left:698.9px;top:198.3px;width:96px;height:49.5px;"><span style="position:absolute;left:28.00px;top:6.70px;font-size:9.3px;line-height:12px;white-space:nowrap;"><span style="display:inline-block;transform:scaleX(1.0696);transform-origin:0 50%">Month:</span></span><span style="position:absolute;left:61.30px;top:6.70px;font-size:9.3px;line-height:12px;white-space:nowrap;font-weight:bold;color:#333"><span style="display:inline-block;transform:scaleX(0.9338);transform-origin:0 50%">Dec 21</span></span><span style="position:absolute;left:50.70px;top:19.70px;font-size:9.3px;line-height:12px;white-space:nowrap;"><span style="display:inline-block;transform:scaleX(0.9695);transform-origin:0 50%">Revenue:</span></span><span style="position:absolute;left:41.00px;top:31.70px;font-size:9.3px;line-height:12px;white-space:nowrap;color:#444;-webkit-text-stroke:.3px #555"><span style="display:inline-block;transform:scaleX(1.0380);transform-origin:0 50%">$1,635,309</span></span></div>
<div class="tip" style="left:628px;top:412.6px;width:96.1px;height:37.2px;background:rgba(247,249,249,.9)"><span style="position:absolute;left:17.70px;top:6.40px;font-size:9.3px;line-height:12px;white-space:nowrap;"><span style="display:inline-block;transform:scaleX(1.0661);transform-origin:0 50%">Month:</span></span><span style="position:absolute;left:50.50px;top:6.40px;font-size:9.3px;line-height:12px;white-space:nowrap;font-weight:bold;color:#333"><span style="display:inline-block;transform:scaleX(0.9167);transform-origin:0 50%">Jun 21</span></span><span style="position:absolute;left:6.90px;top:19.40px;font-size:9.3px;line-height:12px;white-space:nowrap;"><span style="display:inline-block;transform:scaleX(0.9695);transform-origin:0 50%">Revenue:</span></span><span style="position:absolute;left:47.90px;top:19.40px;font-size:9.3px;line-height:12px;white-space:nowrap;color:#444;-webkit-text-stroke:.3px #555"><span style="display:inline-block;transform:scaleX(1.0469);transform-origin:0 50%">$533,825</span></span></div>

</div>

<div id="tabbar">
<span class="tab" style="position:absolute;left:87.20px;top:5.00px;font-size:8.6px;line-height:11px;white-space:nowrap;"><span style="display:inline-block;transform:scaleX(0.8621);transform-origin:0 50%">R TREND</span></span>
<span class="tab" style="position:absolute;left:131.00px;top:5.00px;font-size:8.6px;line-height:11px;white-space:nowrap;"><span style="display:inline-block;transform:scaleX(0.9006);transform-origin:0 50%">REGION DISTRIBUTION</span></span>
<span class="tab" style="position:absolute;left:230.60px;top:5.00px;font-size:8.6px;line-height:11px;white-space:nowrap;"><span style="display:inline-block;transform:scaleX(0.8954);transform-origin:0 50%">AGE GROUP DISTRIBUTION</span></span>
<span class="tab" style="position:absolute;left:346.10px;top:5.00px;font-size:8.6px;line-height:11px;white-space:nowrap;"><span style="display:inline-block;transform:scaleX(0.9232);transform-origin:0 50%">OCCUPATION DISTRIBUTION</span></span>
<span class="tab" style="position:absolute;left:468.40px;top:5.00px;font-size:8.6px;line-height:11px;white-space:nowrap;"><span style="display:inline-block;transform:scaleX(0.9423);transform-origin:0 50%">MARITAL STATUS</span></span>
<span class="tab" style="position:absolute;left:547.00px;top:5.00px;font-size:8.6px;line-height:11px;white-space:nowrap;"><span style="display:inline-block;transform:scaleX(0.9417);transform-origin:0 50%">PARENTAL STATUS</span></span>
<span class="tab" style="position:absolute;left:641.70px;top:5.00px;font-size:8.6px;line-height:11px;white-space:nowrap;"><span style="display:inline-block;transform:scaleX(0.9072);transform-origin:0 50%">SALES DASHBOARD</span></span>
<span class="tab" style="position:absolute;left:738.80px;top:5.00px;font-size:8.6px;line-height:11px;white-space:nowrap;"><span style="display:inline-block;transform:scaleX(0.9116);transform-origin:0 50%">CUSTOMER DASHBOARD</span></span>
<i class="tsep" style="left:126.5px"></i>
<i class="tsep" style="left:226.0px"></i>
<i class="tsep" style="left:341.5px"></i>
<i class="tsep" style="left:464.5px"></i>
<i class="tsep" style="left:542.5px"></i>
<i class="tsep" style="left:627.5px"></i>
<i class="tsep" style="left:725.0px"></i>

<div class="abs" style="left:0;top:0;width:87px;height:20px;background:#e7e7e7;border-right:1px solid #dadada;box-shadow:1px 0 2px rgba(0,0,0,.08)"></div>
<svg class="abs" style="left:5.200px;top:6.800px" width="5" height="7" viewBox="0 0 5 7"><g fill="none" stroke="#666" stroke-width=".7"><ellipse cx="2.500" cy="1.400" rx="1.900" ry=".9"/><path d="M.6 1.400v4.200c0 .5 .8 .9 1.900 .9s1.900-.4 1.900-.9V1.400M.6 3.500c0 .5 .8 .9 1.900 .9s1.900-.4 1.900-.9"/></g></svg>
<span class="tab" style="position:absolute;left:14.00px;top:5.00px;font-size:8.6px;line-height:11px;white-space:nowrap;"><span style="display:inline-block;transform:scaleX(0.9397);transform-origin:0 50%">Data Source</span></span>
<svg class="abs" style="left:632.800px;top:6.200px" width="6.400" height="6.400" viewBox="0 0 8 8"><g fill="none" stroke="#666" stroke-width=".8"><rect x=".6" y=".6" width="6.800" height="6.800" rx=".6"/><path d="M4 .6v6.800M.6 4h6.800"/></g></svg>
<svg class="abs" style="left:729.900px;top:6.200px" width="6.400" height="6.400" viewBox="0 0 8 8"><g fill="none" stroke="#666" stroke-width=".8"><rect x=".6" y=".6" width="6.800" height="6.800" rx=".6"/><path d="M4 .6v6.800M.6 4h6.800"/></g></svg>
<div class="abs" style="left:843.500px;top:0;width:132.500px;height:19.300px;background:#fbfbfb"></div>
<svg class="abs" style="left:847.800px;top:6.200px" width="6.400" height="6.400" viewBox="0 0 8 8"><g fill="none" stroke="#555" stroke-width=".8"><path d="M.6 1.300c1.200-.5 2.300-.5 3.400.2c1.100-.7 2.200-.7 3.400-.2v5.400c-1.200-.5-2.300-.5-3.400.2c-1.100-.7-2.200-.7-3.400-.2zM4 1.500v5.400"/></g></svg>
<span style="position:absolute;left:856.70px;top:5.00px;font-size:8.9px;line-height:11px;white-space:nowrap;font-weight:bold;color:#555"><span style="display:inline-block;transform:scaleX(0.9077);transform-origin:0 50%">SALES AND CUSTOMER ST...</span></span>
<i class="tsep" style="left:976px;background:#dcdcdc"></i><i class="tsep" style="left:993px;background:#dcdcdc"></i><i class="tsep" style="left:1010px;background:#dcdcdc"></i>
<svg class="abs" style="left:976px;top:0" width="48" height="19" viewBox="976 518 48 19"><g fill="none" stroke="#828282" stroke-width=".8"><rect x="981.800" y="524.500" width="5.700" height="5"/><path d="M983.600 528.200v-1.200h1.400v1.200M983.400 528.300h2.400" stroke="#999" stroke-width=".6"/><rect x="999.200" y="524.500" width="5.500" height="5"/><path d="M1001.100 524.500v5M999.200 526.800h5.500"/><path d="M1016.300 525c.9-.4 1.800-.4 2.700 .2c.9-.6 1.800-.6 2.700-.2v4.700c-.9-.4-1.800-.4-2.700 .2c-.9-.6-1.800-.6-2.700-.2zM1019 525.200v4.700"/></g><g stroke="#444" stroke-width="1.200"><path d="M987.600 527.500v4.600M985.300 529.800h4.600M1004.600 527.500v4.600M1002.300 529.800h4.600M1021.900 527.500v4.600M1019.600 529.800h4.600"/></g></svg>
<div class="abs" style="left:0;top:20px;width:1024px;height:3px;background:#f0f0f0"></div>
<i class="ssep" style="left:888px"></i><i class="ssep" style="left:904.500px"></i><i class="ssep" style="left:921.500px"></i><i class="ssep" style="left:952.500px"></i><i class="ssep" style="left:990.500px"></i>
<div class="abs" style="left:4px;top:20.500px;width:23px;height:3px;background:#fff;border:1px solid #ccc"></div>
</div>
</body>
</html>
